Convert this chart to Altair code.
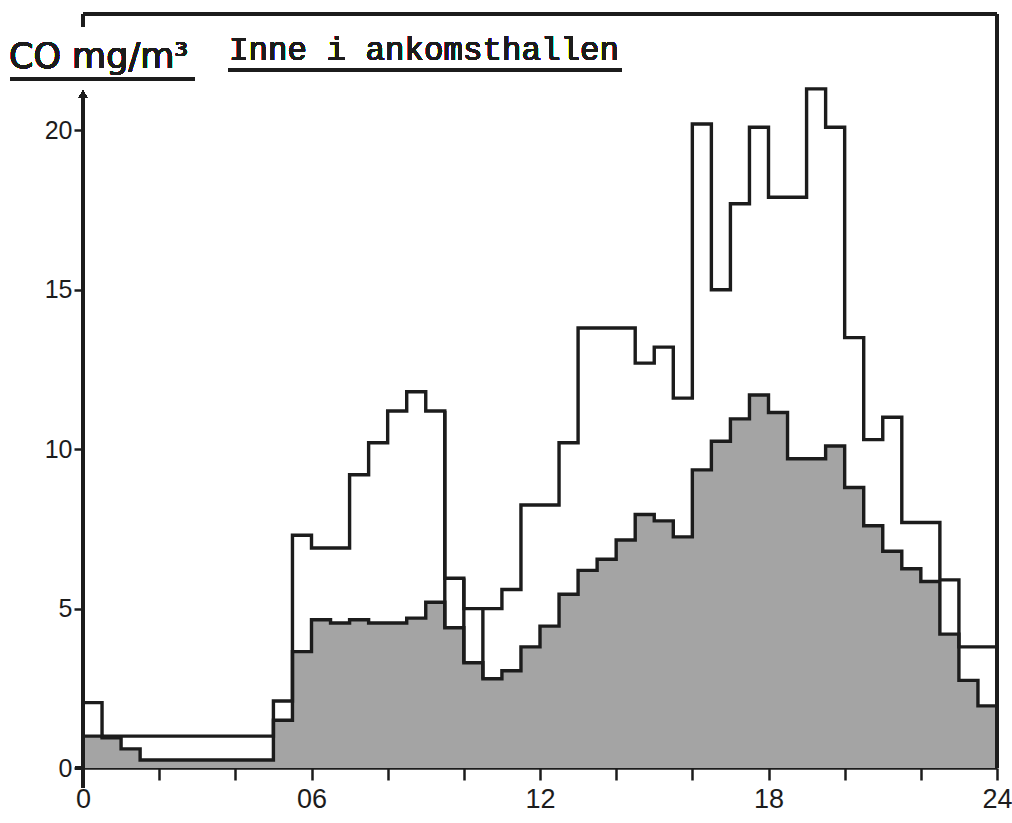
import altair as alt
import pandas as pd

# Start of each half-hour interval (hours of the day)
hour_start = [0.0, 0.5, 1.0, 1.5, 2.0, 2.5, 3.0, 3.5, 4.0, 4.5,
              5.0, 5.5, 6.0, 6.5, 7.0, 7.5, 8.0, 8.5, 9.0, 9.5,
              10.0, 10.5, 11.0, 11.5, 12.0, 12.5, 13.0, 13.5, 14.0, 14.5,
              15.0, 15.5, 16.0, 16.5, 17.0, 17.5, 18.0, 18.5, 19.0, 19.5,
              20.0, 20.5, 21.0, 21.5, 22.0, 22.5, 23.0, 23.5]

# Highest half-hour CO level, mg/m3
co_max = [2.05, 1.0, 1.0, 1.0, 1.0, 1.0, 1.0, 1.0, 1.0, 1.0,
          2.1, 7.3, 6.9, 6.9, 9.2, 10.2, 11.2, 11.8, 11.2, 5.95,
          5.0, 5.0, 5.6, 8.25, 8.25, 10.2, 13.8, 13.8, 13.8, 12.7,
          13.2, 11.6, 20.2, 15.0, 17.7, 20.1, 17.9, 17.9, 21.3, 20.1,
          13.5, 10.3, 11.0, 7.7, 7.7, 5.9, 3.8, 3.8]

# Mean half-hour CO level, mg/m3 (shaded area)
co_mean = [1.0, 0.95, 0.6, 0.25, 0.25, 0.25, 0.25, 0.25, 0.25, 0.25,
           1.5, 3.65, 4.65, 4.55, 4.65, 4.55, 4.55, 4.7, 5.2, 4.4,
           3.3, 2.8, 3.05, 3.8, 4.45, 5.45, 6.2, 6.55, 7.15, 7.95,
           7.75, 7.25, 9.35, 10.25, 10.95, 11.7, 11.15, 9.7, 9.7, 10.1,
           8.8, 7.6, 6.8, 6.25, 5.85, 4.2, 2.75, 1.95]

# Interval edges where the two curves are joined by a full vertical stroke
joined_edges = [9.5, 10.0, 10.5]

x_ticks = [0, 2, 4, 6, 8, 10, 12, 14, 16, 18, 20, 22, 24]
y_ticks = [0, 5, 10, 15, 20]

title_unit = "CO mg/m³"
title_place = "Inne i ankomsthallen"

W, H = 914, 754
INK = "#1c1c1c"

# Step data: repeat the last value at 24 h so the final interval is drawn
df = pd.DataFrame({
    "hour": hour_start + [24.0],
    "co_max": co_max + [co_max[-1]],
    "co_mean": co_mean + [co_mean[-1]],
})

rows = []
for e in joined_edges:
    i = hour_start.index(e)
    lo = min(co_mean[i - 1], co_mean[i])
    hi = max(co_max[i - 1], co_max[i])
    rows.append({"hour": e, "lo": lo, "hi": hi})
joins = pd.DataFrame(rows)

x_scale = alt.Scale(domain=[0, 24], nice=False, zero=False)
y_scale = alt.Scale(domain=[0, 23.65], nice=False)

x_enc = alt.X(
    "hour:Q", scale=x_scale, title=None,
    axis=alt.Axis(
        values=x_ticks, grid=False, domainColor=INK, domainWidth=2.5,
        tickColor=INK, tickWidth=2.5, tickSize=12, labelFlush=False,
        labelFont="Liberation Sans", labelFontSize=27, labelColor=INK,
        labelPadding=6, labelOverlap=False,
        labelExpr="datum.value % 6 != 0 ? '' : (datum.value == 0 ? '0' : (datum.value < 10 ? '0' + datum.value : '' + datum.value))",
    ),
)

y_axis = alt.Axis(
    values=y_ticks, grid=False, domain=False,
    tickColor=INK, tickWidth=2.5, tickSize=9,
    labelFont="Liberation Sans", labelFontSize=25, labelColor=INK,
    labelPadding=2,
)

base = alt.Chart(df)

mean_area = base.mark_area(interpolate="step-after", color="#a4a4a4").encode(
    x=x_enc,
    y=alt.Y("co_mean:Q", scale=y_scale, axis=y_axis, title=None),
)

mean_line = base.mark_line(interpolate="step-after", color=INK, strokeWidth=3.4).encode(
    x="hour:Q", y="co_mean:Q"
)

max_line = base.mark_line(interpolate="step-after", color=INK, strokeWidth=3.4).encode(
    x="hour:Q", y="co_max:Q"
)

join_rules = alt.Chart(joins).mark_rule(color=INK, strokeWidth=3.4).encode(
    x="hour:Q", y="lo:Q", y2="hi:Q"
)

# Frame: top and right border, left axis with arrowhead
frame_top = alt.Chart(df).mark_rule(color=INK, strokeWidth=2.5).encode(
    x=alt.value(0), x2=alt.value(W), y=alt.value(0)
)
frame_right = alt.Chart(df).mark_rule(color=INK, strokeWidth=2.5).encode(
    x=alt.value(W), y=alt.value(0), y2=alt.value(H)
)
left_stub = alt.Chart(df).mark_rule(color=INK, strokeWidth=2.5).encode(
    x=alt.value(0), y=alt.value(0), y2=alt.value(13)
)
left_axis = alt.Chart(df).mark_rule(color=INK, strokeWidth=2.5).encode(
    x=alt.value(0), y=alt.value(80), y2=alt.value(H + 20)
)
bottom_stub = alt.Chart(df).mark_rule(color=INK, strokeWidth=2.5).encode(
    x=alt.value(-8), x2=alt.value(0), y=alt.value(H)
)
arrow = alt.Chart(df).mark_point(
    shape="triangle-up", filled=True, color=INK, size=70, opacity=1
).encode(x=alt.value(0), y=alt.value(80))

unit_text = alt.Chart(df).mark_text(
    text=title_unit, font="DejaVu Sans", fontSize=35, color=INK,
    align="left", baseline="alphabetic",
).encode(x=alt.value(-74), y=alt.value(54))
unit_line = alt.Chart(df).mark_rule(color=INK, strokeWidth=2.5).encode(
    x=alt.value(-73), x2=alt.value(112), y=alt.value(65)
)
place_text = alt.Chart(df).mark_text(
    text=title_place, font="Liberation Mono", fontSize=32.5, color=INK,
    align="left", baseline="alphabetic",
).encode(x=alt.value(146), y=alt.value(46))
place_line = alt.Chart(df).mark_rule(color=INK, strokeWidth=2.5).encode(
    x=alt.value(145), x2=alt.value(539), y=alt.value(56)
)

chart = alt.layer(
    mean_area, mean_line, max_line, join_rules,
    frame_top, frame_right, left_stub, left_axis, bottom_stub, arrow,
    unit_text, unit_line, place_text, place_line,
).properties(
    width=W, height=H,
    autosize=alt.AutoSizeParams(type="none"),
    padding={"left": 83, "top": 14, "right": 15, "bottom": 55},
    background="white",
).configure_view(stroke=None, clip=False)

chart.save("out.html", embed_options={"renderer": "svg", "actions": False})
